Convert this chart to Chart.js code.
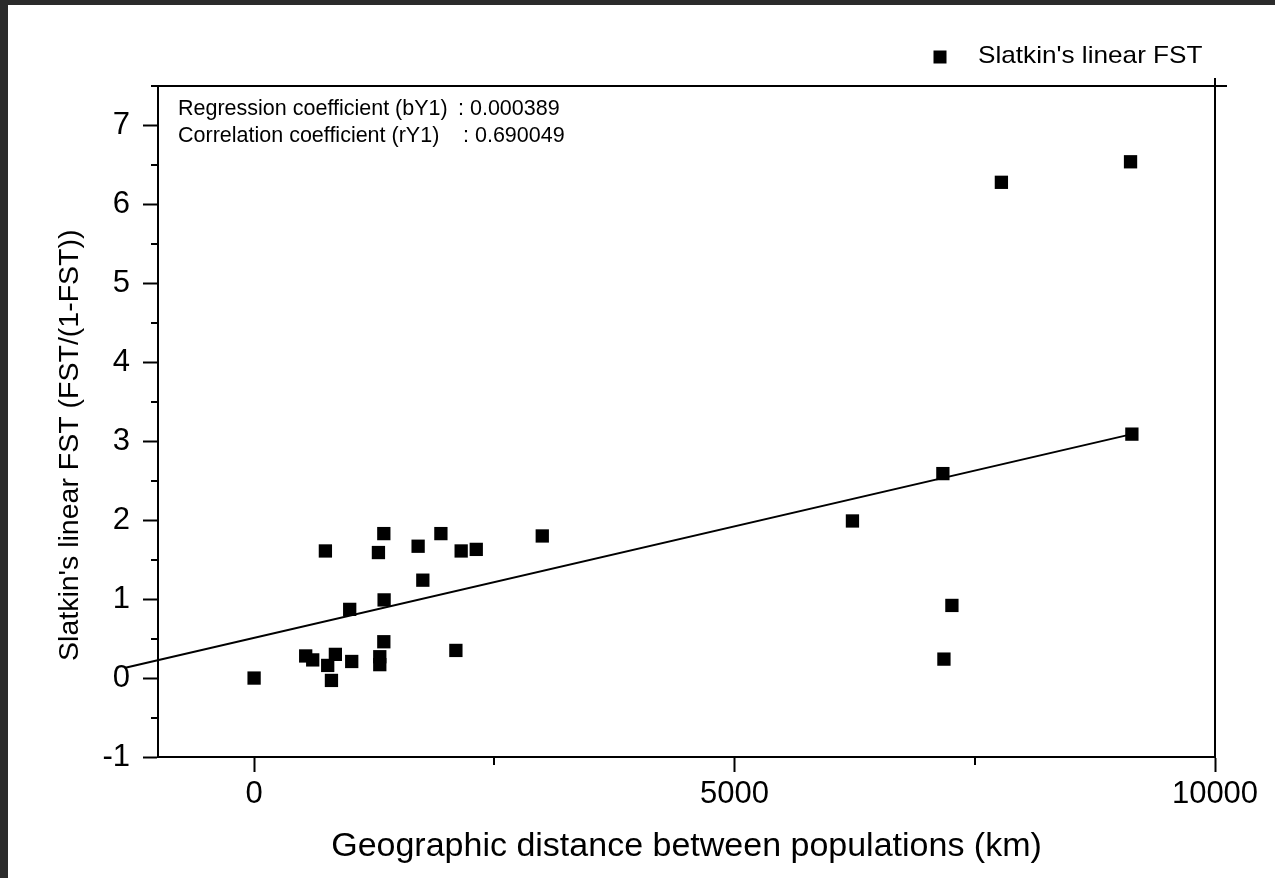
<!DOCTYPE html>
<html>
<head>
<meta charset="utf-8">
<title>Slatkin's linear FST vs distance</title>
<script src="https://cdn.jsdelivr.net/npm/chart.js@4.4.1/dist/chart.umd.min.js"></script>
<style>
    html, body { margin: 0; padding: 0; width: 1275px; height: 878px; overflow: hidden; background: #2b2b2b; }
    #wrap { position: absolute; left: 8px; top: 5px; width: 1267px; height: 873px; background: #fff; }
    canvas { display: block; }
</style>
</head>
<body>
<div id="wrap"><canvas id="fstChart" width="1267" height="873"></canvas></div>
<script>
// Values.
const distanceKm = [0, 537, 610, 742, 766, 805, 846, 995, 1016, 1294, 1308, 1308, 1350, 1353, 1350,
    1707, 1756, 1944, 2100, 2155, 2312, 2999, 6227, 7168, 7179, 7262, 7777, 9121, 9135];
const linearFst = [0, 0.28, 0.23, 1.61, 0.16, -0.03, 0.30, 0.87, 0.21, 1.59, 0.27, 0.17, 1.83, 0.99, 0.46,
    1.67, 1.24, 1.83, 0.35, 1.61, 1.63, 1.80, 1.99, 2.59, 0.24, 0.92, 6.28, 6.54, 3.09];

// Regression line end points (as drawn in the figure).
const fitX = [-1340, 9135];
const fitY = [0.13, 3.09];

// Tick positions.
const xMajorTicks = [0, 5000, 10000];
const xMinorTicks = [2500, 7500];
const yMinorTicks = [-0.5, 0.5, 1.5, 2.5, 3.5, 4.5, 5.5, 6.5, 7.5];

const seriesName = "Slatkin's linear FST";
const statLabels = ['Regression coefficient (bY1)', 'Correlation coefficient (rY1)'];
const statValues = [': 0.000389', ': 0.690049'];

const FONT = "'Liberation Sans', Arial, sans-serif";

// Draws the closed frame, minor ticks, stats text and legend.
const decorPlugin = {
    id: 'decor',
    afterDraw(chart) {
        const ctx = chart.ctx;
        const area = chart.chartArea;
        const xs = chart.scales.x;
        const ys = chart.scales.y;

        ctx.save();
        ctx.strokeStyle = '#000';
        ctx.lineWidth = 2;
        ctx.beginPath();
        // top and right edges
        ctx.moveTo(area.left - 6, area.top);
        ctx.lineTo(area.right + 12, area.top);
        ctx.moveTo(area.right, area.top - 8);
        ctx.lineTo(area.right, area.bottom);
        // minor ticks
        yMinorTicks.forEach(function (v) {
            const py = Math.round(ys.getPixelForValue(v));
            ctx.moveTo(area.left - 7, py);
            ctx.lineTo(area.left, py);
        });
        xMinorTicks.forEach(function (v) {
            const px = Math.round(xs.getPixelForValue(v));
            ctx.moveTo(px, area.bottom);
            ctx.lineTo(px, area.bottom + 8);
        });
        ctx.stroke();

        // regression stats
        ctx.fillStyle = '#000';
        ctx.font = '21.5px ' + FONT;
        ctx.textBaseline = 'alphabetic';
        ctx.fillText(statLabels[0], area.left + 20, area.top + 29);
        ctx.fillText(statValues[0], area.left + 300, area.top + 29);
        ctx.fillText(statLabels[1], area.left + 20, area.top + 56);
        ctx.fillText(statValues[1], area.left + 305, area.top + 56);

        // legend
        ctx.fillRect(925.5, 45.5, 13, 13);
        ctx.font = '24px ' + FONT;
        ctx.translate(970, 58);
        ctx.scale(1.09, 1);
        ctx.fillText(seriesName, 0, 0);
        ctx.restore();
    }
};

const ctx = document.getElementById('fstChart').getContext('2d');

new Chart(ctx, {
    type: 'scatter',
    data: {
        datasets: [{
            label: seriesName,
            data: distanceKm.map(function (d, i) { return {x: d, y: linearFst[i]}; }),
            pointStyle: 'rect',
            pointRadius: 9.4,
            pointBorderWidth: 0,
            backgroundColor: '#000',
            borderColor: '#000'
        }, {
            label: 'Linear fit',
            data: fitX.map(function (d, i) { return {x: d, y: fitY[i]}; }),
            showLine: true,
            pointRadius: 0,
            borderColor: '#000',
            borderWidth: 2,
            clip: false
        }]
    },
    options: {
        responsive: false,
        animation: false,
        events: [],
        layout: { padding: { top: 81, right: 60, bottom: 0, left: 0 } },
        plugins: {
            legend: { display: false },
            tooltip: { enabled: false }
        },
        scales: {
            x: {
                type: 'linear',
                min: -1000,
                max: 10000,
                afterFit: function (scale) { scale.height = 121; },
                afterBuildTicks: function (scale) {
                    scale.ticks = xMajorTicks.map(function (v) { return {value: v}; });
                },
                ticks: {
                    color: '#000',
                    padding: 4,
                    font: { family: FONT, size: 31 },
                    callback: function (v) { return String(v); }
                },
                grid: { drawOnChartArea: false, tickLength: 15, tickWidth: 2, tickColor: '#000' },
                border: { color: '#000', width: 2 },
                title: {
                    display: true,
                    text: 'Geographic distance between populations (km)',
                    color: '#000',
                    font: { family: FONT, size: 34 },
                    padding: { top: 0, bottom: 11 }
                }
            },
            y: {
                min: -1,
                max: 7.5,
                afterFit: function (scale) { scale.width = 150; },
                ticks: {
                    stepSize: 1,
                    includeBounds: false,
                    color: '#000',
                    padding: 13,
                    font: { family: FONT, size: 31 }
                },
                grid: { drawOnChartArea: false, tickLength: 15, tickWidth: 2, tickColor: '#000' },
                border: { color: '#000', width: 2 },
                title: {
                    display: true,
                    // trailing spaces nudge the centred title downwards, as in the source figure
                    text: "Slatkin's linear FST (FST/(1-FST))\u00a0\u00a0\u00a0\u00a0\u00a0\u00a0",
                    color: '#000',
                    font: { family: FONT, size: 28.5 },
                    padding: { top: 45, bottom: 0 }
                }
            }
        }
    },
    plugins: [decorPlugin]
});
</script>
</body>
</html>
